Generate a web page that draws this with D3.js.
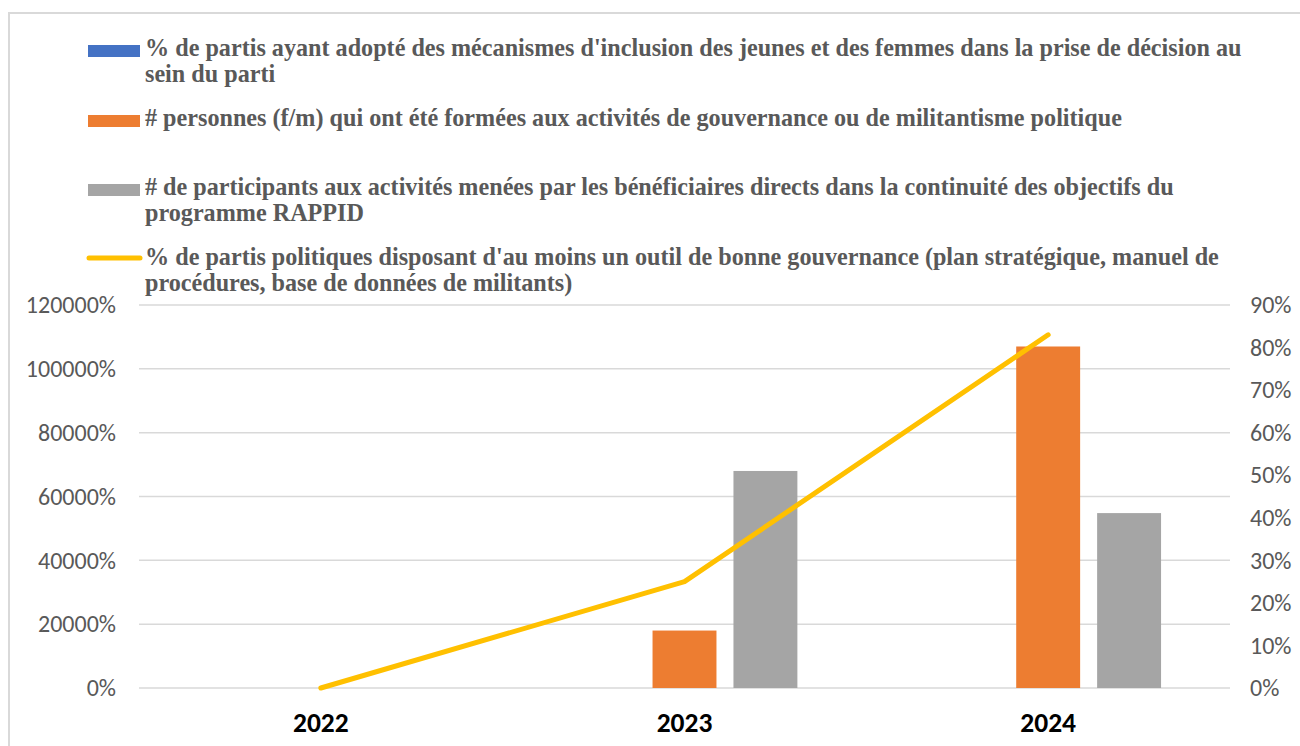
<!DOCTYPE html>
<html>
<head>
<meta charset="utf-8">
<script src="https://cdn.jsdelivr.net/npm/d3@7"></script>
<style>
  body { margin: 0; background: #fff; }
  svg { display: block; }
</style>
</head>
<body>
<svg width="1300" height="746"></svg>
<script>
const years = ['2022', '2023', '2024']
// bar values, left axis (1 = 100%)
const inclusionJeunesFemmes = [0, 0, 0]
const personnesFormees = [0, 180, 1070]
const participantsActivites = [0, 680, 548]
// line values, right axis
const partisOutilGouvernance = [0, 0.25, 0.83]

const leftTicks = [0, 200, 400, 600, 800, 1000, 1200]
const rightTicks = [0, 0.1, 0.2, 0.3, 0.4, 0.5, 0.6, 0.7, 0.8, 0.9]

const legendLines = [
  ["%  de partis ayant adopté des mécanismes d'inclusion des jeunes et des femmes dans la prise de décision au", "sein du parti"],
  ["# personnes (f/m) qui ont été formées aux activités de gouvernance ou de militantisme politique"],
  ["# de participants aux activités menées par les bénéficiaires directs dans la continuité des objectifs du", "programme RAPPID"],
  ["% de partis politiques disposant d'au moins un outil de bonne gouvernance (plan stratégique, manuel de", "procédures, base de données de militants)"]
]
const legendY = [50, 120, 189, 259]

const series = ['incl', 'pers', 'part']
const colors = { incl: '#4472c4', pers: '#ed7d31', part: '#a5a5a5', line: '#ffc000' }

const svg = d3.select('svg')
const margin = { left: 139, right: 1230, top: 305, bottom: 688 }

// frame
svg.append('rect')
  .attr('x', 9).attr('y', 13)
  .attr('width', 1400).attr('height', 800)
  .attr('fill', 'none').attr('stroke', '#d9d9d9').attr('stroke-width', 2)

const x = d3.scaleBand().domain(years).range([margin.left, margin.right])
const xs = d3.scaleBand().domain(series).range([0, x.bandwidth()])
  .paddingInner(0.21).paddingOuter(0.852)
const yL = d3.scaleLinear().domain([0, 1200]).range([margin.bottom, margin.top])
const yR = d3.scaleLinear().domain([0, 0.9]).range([margin.bottom, margin.top])

// grid
svg.append('g').selectAll('line')
  .data(leftTicks).enter().append('line')
  .attr('x1', margin.left).attr('x2', margin.right)
  .attr('y1', d => yL(d)).attr('y2', d => yL(d))
  .attr('stroke', '#d9d9d9').attr('stroke-width', 1.5)

const tickFont = '24px Carlito, "Liberation Sans", sans-serif'

// left axis
const leftAxis = svg.append('g')
  .attr('transform', `translate(${margin.left - 23},0)`)
  .call(d3.axisLeft(yL).tickValues(leftTicks).tickFormat(d3.format('.0%')).tickSize(0).tickPadding(0))
leftAxis.select('.domain').remove()
leftAxis.selectAll('text')
  .attr('fill', '#595959').style('font', tickFont)

// right axis
const rightAxis = svg.append('g')
  .attr('transform', `translate(${margin.right + 20},0)`)
  .call(d3.axisRight(yR).tickValues(rightTicks).tickFormat(d3.format('.0%')).tickSize(0).tickPadding(0))
rightAxis.select('.domain').remove()
rightAxis.selectAll('text')
  .attr('fill', '#595959').style('font', tickFont)

// x axis labels
const xAxis = svg.append('g')
  .attr('transform', `translate(0,${margin.bottom + 24})`)
  .call(d3.axisBottom(x).tickSize(0).tickPadding(0))
xAxis.select('.domain').remove()
xAxis.selectAll('text')
  .attr('fill', '#000').style('font', 'bold 27.5px Carlito, "Liberation Sans", sans-serif')

// bars
const barData = years.map((y, i) => ({
  year: y,
  vals: [
    { k: 'incl', v: inclusionJeunesFemmes[i] },
    { k: 'pers', v: personnesFormees[i] },
    { k: 'part', v: participantsActivites[i] }
  ]
}))

svg.append('g').selectAll('g')
  .data(barData).enter().append('g')
  .attr('transform', d => `translate(${x(d.year)},0)`)
  .selectAll('rect')
  .data(d => d.vals.filter(s => s.v > 0))
  .enter().append('rect')
  .attr('x', d => xs(d.k))
  .attr('width', xs.bandwidth())
  .attr('y', d => yL(d.v))
  .attr('height', d => yL(0) - yL(d.v))
  .attr('fill', d => colors[d.k])

// line
const line = d3.line()
  .x((d, i) => x(years[i]) + x.bandwidth() / 2)
  .y(d => yR(d))

svg.append('path')
  .datum(partisOutilGouvernance)
  .attr('d', line)
  .attr('fill', 'none')
  .attr('stroke', colors.line)
  .attr('stroke-width', 5)
  .attr('stroke-linecap', 'round')
  .attr('stroke-linejoin', 'round')

// legend
const legend = svg.append('g')
const legendKeys = ['incl', 'pers', 'part', 'line']
legendKeys.forEach((k, i) => {
  const y0 = legendY[i]
  if (k === 'line') {
    legend.append('line')
      .attr('x1', 89).attr('x2', 140)
      .attr('y1', y0 - 1).attr('y2', y0 - 1)
      .attr('stroke', colors.line).attr('stroke-width', 5).attr('stroke-linecap', 'round')
  } else {
    legend.append('rect')
      .attr('x', 88).attr('y', y0 - 5).attr('width', 52).attr('height', 12)
      .attr('fill', colors[k])
  }
  const t = legend.append('text')
    .attr('class', 'lg')
    .attr('x', 145).attr('y', y0 + 6)
    .attr('fill', '#595959')
    .style('font-family', '"Liberation Serif", "DejaVu Serif", serif')
    .style('font-weight', 'bold')
  legendLines[i].forEach((ln, j) => {
    t.append('tspan').attr('x', 145).attr('dy', j === 0 ? 0 : 26).text(ln)
  })
})

// fit legend font so the longest line spans like the original
const lgText = legend.selectAll('text.lg')
lgText.style('font-size', '20px')
const w = lgText.select('tspan').node().getComputedTextLength()
lgText.style('font-size', (20 * 1097 / w) + 'px')
</script>
</body>
</html>
